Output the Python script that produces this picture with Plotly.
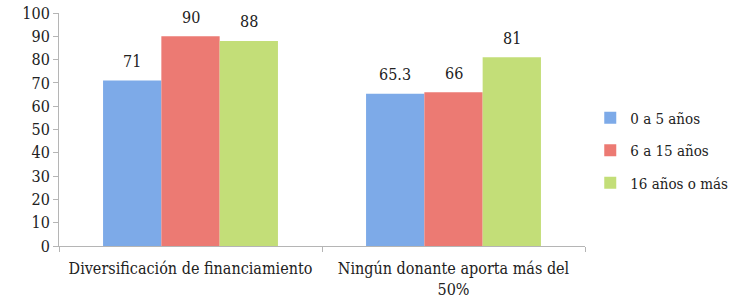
import plotly.graph_objects as go

categories = ["Diversificación de financiamiento", "Ningún donante aporta más del<br>50%"]
series_names = ["0 a 5 años", "6 a 15 años", "16 años o más"]
values_0a5 = [71, 65.3]
values_6a15 = [90, 66]
values_16mas = [88, 81]
label_0a5 = ["71", "65.3"]
label_6a15 = ["90", "66"]
label_16mas = ["88", "81"]
y_ticks = [0, 10, 20, 30, 40, 50, 60, 70, 80, 90, 100]

colors = ["#7DAAE8", "#EC7A73", "#C3DE78"]
FONT = "DejaVu Serif Condensed, DejaVu Serif"

fig = go.Figure()
all_vals = [values_0a5, values_6a15, values_16mas]
all_labels = [label_0a5, label_6a15, label_16mas]
for name, vals, col in zip(series_names, all_vals, colors):
    fig.add_trace(go.Bar(x=categories, y=vals, name=name, legendgroup=name,
                         marker=dict(color=col, line=dict(width=0))))

L, R, T, B = 59, 156, 13, 54
W, H = 741, 300
bargap = 0.335
plot_w = W - L - R
bar_px = plot_w / len(categories) * (1 - bargap) / len(series_names)
for i, (vals, labs) in enumerate(zip(all_vals, all_labels)):
    for c, v, t in zip(categories, vals, labs):
        fig.add_annotation(x=c, y=v, text=t, showarrow=False,
                           xshift=(i - 1) * bar_px, yshift=19,
                           font=dict(family=FONT, size=16, color="#222"))

fig.update_layout(
    width=W, height=H,
    margin=dict(l=L, r=R, t=T, b=B, autoexpand=False),
    paper_bgcolor="white", plot_bgcolor="white",
    barmode="group", bargap=bargap, bargroupgap=0,
    font=dict(family=FONT, size=15, color="#222"),
    showlegend=True,
    legend=dict(x=1.01, y=0.41, xanchor="left", yanchor="middle",
                font=dict(family=FONT, size=15, color="#222"),
                traceorder="grouped", tracegroupgap=10, itemwidth=30),
)
fig.update_yaxes(range=[0, 100], tickvals=y_ticks, showgrid=False,
                 showline=True, linecolor="#B5B5B5", linewidth=1,
                 ticks="outside", ticklen=5, tickcolor="#B5B5B5",
                 tickfont=dict(family=FONT, size=16, color="#222"),
                 zeroline=False, automargin=False)
fig.update_xaxes(showgrid=False, showline=True, linecolor="#B5B5B5", linewidth=1,
                 ticks="outside", ticklen=5, tickcolor="#B5B5B5",
                 tickson="boundaries", tickangle=0, automargin=False,
                 ticklabelstandoff=8,
                 tickfont=dict(family=FONT, size=16, color="#222"))

fig.write_html("out.html", config={"displayModeBar": False},
               post_script="document.body.style.margin='0';document.body.style.padding='0';")
